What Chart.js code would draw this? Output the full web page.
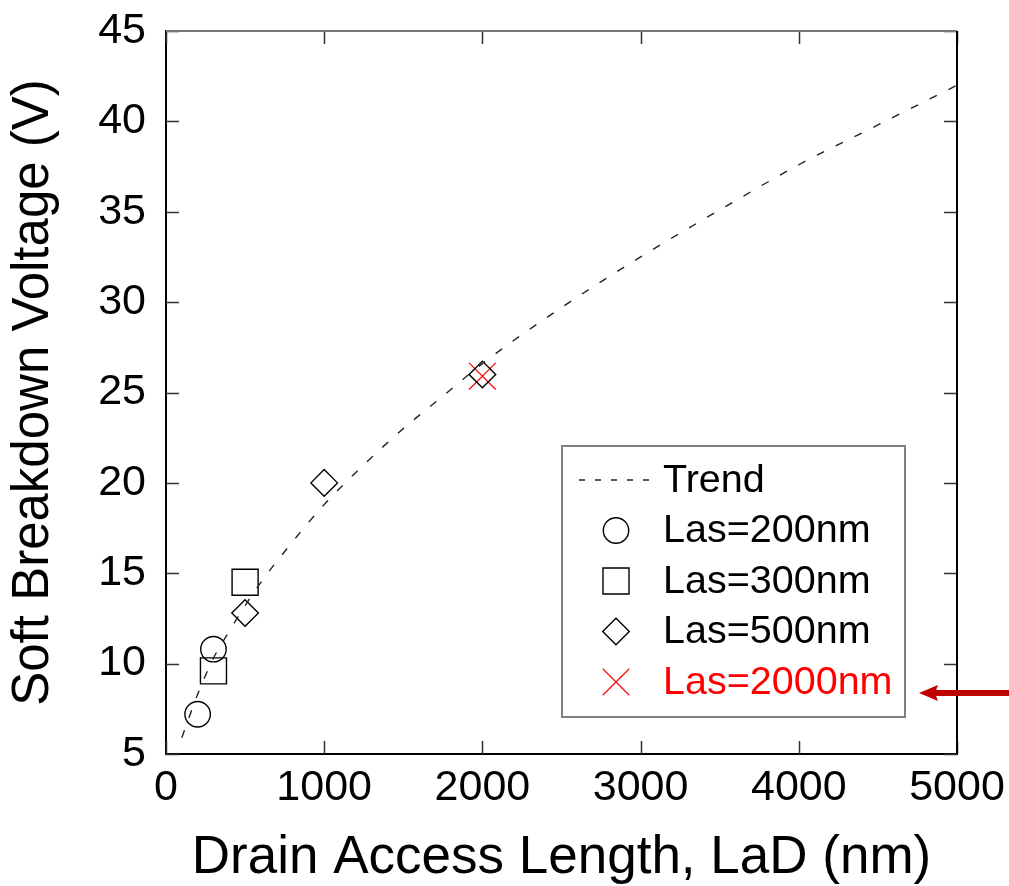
<!DOCTYPE html>
<html>
<head>
<meta charset="utf-8">
<title>Soft Breakdown Voltage vs Drain Access Length</title>
<script src="https://cdn.jsdelivr.net/npm/chart.js@4.4.1/dist/chart.umd.min.js"></script>
<style>
  html, body { margin: 0; padding: 0; background: #fff; }
  canvas { display: block; }
</style>
</head>
<body>
<canvas id="bvChart" width="1009" height="886"></canvas>
<script>
// Measured soft breakdown voltage (V) per drain access length LaD (nm)
const las200X = [200, 300];
const las200Y = [7.2, 10.8];
const las300X = [300, 500];
const las300Y = [9.6, 14.5];
const las500X = [500, 1000, 2000];
const las500Y = [12.8, 20.0, 26.0];
const las2000X = [2000];
const las2000Y = [25.9];

// Trend curve through the measurements
const trendX = [100, 200, 300, 400, 500, 600, 750, 1000, 1250, 1500, 1750, 2000, 2500, 3000, 3500, 4000, 4500, 5000];
const trendY = [5.9, 8.3, 10.3, 11.8, 13.2, 14.5, 16.2, 18.8, 21.0, 23.0, 24.8, 26.6, 29.7, 32.5, 35.1, 37.6, 39.8, 42.0];

const xTicks = [0, 1000, 2000, 3000, 4000, 5000];
const yTicks = [5, 10, 15, 20, 25, 30, 35, 40, 45];

const FONT = "'Liberation Sans', Arial, Helvetica, sans-serif";

const toPoints = (xs, ys) => xs.map((x, i) => ({ x: x, y: ys[i] }));

function markerSet(label, xs, ys, style, radius, color, width) {
    return {
        label: label,
        data: toPoints(xs, ys),
        pointStyle: style,
        pointRadius: radius,
        pointHoverRadius: radius,
        pointBorderWidth: width,
        borderColor: color,
        backgroundColor: 'rgba(0,0,0,0)',
        labelColor: color,
        showLine: false
    };
}

// inward tick marks on all four sides plus the top/right frame
const axisFrame = {
    id: 'axisFrame',
    afterDraw(chart) {
        const ctx = chart.ctx;
        const area = chart.chartArea;
        const xs = chart.scales.x;
        const ys = chart.scales.y;
        const len = 13;
        ctx.save();
        ctx.strokeStyle = '#333';
        ctx.lineWidth = 1.5;
        ctx.beginPath();
        xs.ticks.forEach(t => {
            const px = Math.round(xs.getPixelForValue(t.value)) + 0.5;
            ctx.moveTo(px, area.bottom);
            ctx.lineTo(px, area.bottom - len);
            ctx.moveTo(px, area.top);
            ctx.lineTo(px, area.top + len);
        });
        ys.ticks.forEach(t => {
            const py = Math.round(ys.getPixelForValue(t.value)) + 0.5;
            ctx.moveTo(area.left, py);
            ctx.lineTo(area.left + len, py);
            ctx.moveTo(area.right, py);
            ctx.lineTo(area.right - len, py);
        });
        ctx.stroke();

        ctx.lineWidth = 2;
        ctx.strokeStyle = '#777';
        ctx.beginPath();
        ctx.moveTo(area.left, area.top);
        ctx.lineTo(area.right, area.top);
        ctx.stroke();
        ctx.strokeStyle = '#000';
        ctx.beginPath();
        ctx.moveTo(area.right, area.top);
        ctx.lineTo(area.right, area.bottom);
        ctx.stroke();
        ctx.restore();
    }
};

// boxed legend in the lower right of the plot, with a pointer to the last entry
const boxLegend = {
    id: 'boxLegend',
    afterDraw(chart) {
        const ctx = chart.ctx;
        const area = chart.chartArea;
        const w = 343, h = 271;
        const right = area.right - 52;
        const bottom = area.bottom - 37;
        const left = right - w;
        const top = bottom - h;
        const rowH = 50.5;
        const symX = left + 54;
        const textX = left + 101;

        ctx.save();
        ctx.fillStyle = '#fff';
        ctx.fillRect(left, top, w, h);
        ctx.strokeStyle = '#808080';
        ctx.lineWidth = 2;
        ctx.strokeRect(left, top, w, h);

        ctx.font = '39.5px ' + FONT;
        ctx.textBaseline = 'middle';
        ctx.textAlign = 'left';

        let lastY = 0;
        chart.data.datasets.forEach((ds, i) => {
            const y = top + 34 + i * rowH;
            lastY = y;
            if (ds.showLine) {
                ctx.strokeStyle = ds.borderColor;
                ctx.lineWidth = ds.borderWidth;
                ctx.setLineDash([6, 10]);
                ctx.beginPath();
                ctx.moveTo(left + 17, y);
                ctx.lineTo(left + 93, y);
                ctx.stroke();
                ctx.setLineDash([]);
            } else {
                ctx.strokeStyle = ds.borderColor;
                ctx.fillStyle = 'rgba(0,0,0,0)';
                ctx.lineWidth = ds.pointBorderWidth;
                Chart.helpers.drawPoint(ctx, {
                    pointStyle: ds.pointStyle,
                    radius: ds.pointRadius,
                    rotation: 0,
                    borderWidth: ds.pointBorderWidth
                }, symX, y);
            }
            ctx.fillStyle = ds.labelColor || '#000';
            ctx.fillText(ds.label, textX, y + 1);
        });

        // dark red arrow pointing at the Las=2000nm entry
        const ay = lastY + 11;
        const tip = right + 14;
        ctx.fillStyle = '#c00000';
        ctx.fillRect(tip + 14, ay - 3, chart.width - tip - 14, 6);
        ctx.beginPath();
        ctx.moveTo(tip, ay);
        ctx.lineTo(tip + 19, ay - 8);
        ctx.lineTo(tip + 16, ay);
        ctx.lineTo(tip + 19, ay + 8);
        ctx.closePath();
        ctx.fill();
        ctx.restore();
    }
};

new Chart(document.getElementById('bvChart'), {
    type: 'scatter',
    data: {
        datasets: [
            {
                label: 'Trend',
                data: toPoints(trendX, trendY),
                showLine: true,
                borderColor: '#222',
                borderWidth: 1.4,
                borderDash: [8, 13],
                pointRadius: 0,
                pointHoverRadius: 0,
                cubicInterpolationMode: 'monotone',
                fill: false,
                labelColor: '#000'
            },
            markerSet('Las=200nm', las200X, las200Y, 'circle', 12.7, '#000', 1.4),
            markerSet('Las=300nm', las300X, las300Y, 'rect', 18.4, '#000', 1.4),
            markerSet('Las=500nm', las500X, las500Y, 'rectRot', 13.3, '#000', 1.4),
            markerSet('Las=2000nm', las2000X, las2000Y, 'crossRot', 18.8, '#ff0000', 1.2)
        ]
    },
    options: {
        responsive: false,
        animation: false,
        events: [],
        layout: { padding: { top: 31, right: 52, left: 0, bottom: 0 } },
        plugins: {
            legend: { display: false },
            tooltip: { enabled: false }
        },
        scales: {
            x: {
                type: 'linear',
                min: 0,
                max: 5000,
                afterBuildTicks: scale => { scale.ticks = xTicks.map(v => ({ value: v })); },
                afterFit: scale => {
                    scale.height = 132;
                    scale.paddingLeft = 0;
                    scale.paddingRight = 0;
                },
                grid: { display: false, drawTicks: false },
                border: { display: true, color: '#000', width: 2 },
                ticks: {
                    color: '#000',
                    padding: 8,
                    maxRotation: 0,
                    callback: v => String(v),
                    font: { family: FONT, size: 43 }
                },
                title: {
                    display: true,
                    text: 'Drain Access Length, LaD (nm)',
                    color: '#000',
                    font: { family: FONT, size: 53 },
                    padding: { top: 0, bottom: -4 }
                }
            },
            y: {
                type: 'linear',
                min: 5,
                max: 45,
                afterBuildTicks: scale => { scale.ticks = yTicks.map(v => ({ value: v })); },
                afterFit: scale => {
                    scale.width = 166;
                    scale.paddingTop = 0;
                    scale.paddingBottom = 0;
                },
                grid: { display: false, drawTicks: false },
                border: { display: true, color: '#000', width: 2 },
                ticks: {
                    color: '#000',
                    padding: 20,
                    callback: v => String(v),
                    font: { family: FONT, size: 43 }
                },
                title: {
                    display: true,
                    text: 'Soft Breakdown Voltage (V)',
                    color: '#000',
                    font: { family: FONT, size: 51 },
                    padding: { top: 3, bottom: 0 }
                }
            }
        }
    },
    plugins: [axisFrame, boxLegend]
});
</script>
</body>
</html>
